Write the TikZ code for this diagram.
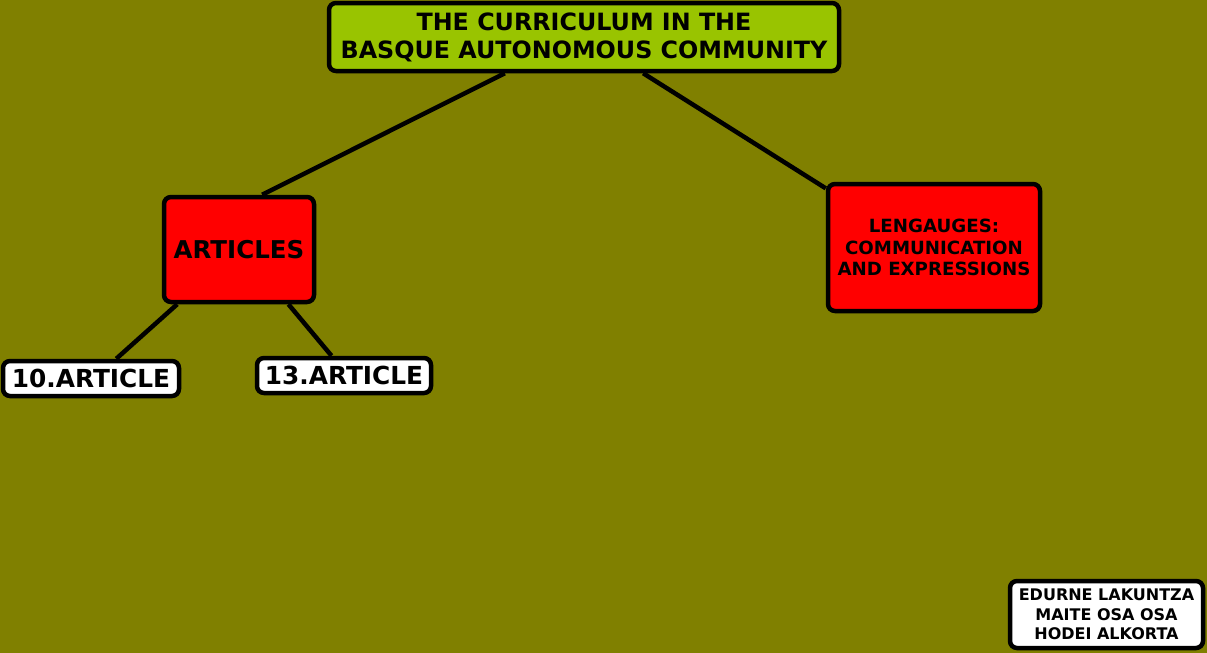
\documentclass[tikz,border=0pt]{standalone}
\usepackage{fontspec}
\setmainfont{DejaVu Sans}
\usetikzlibrary{calc}
\definecolor{bgolive}{RGB}{128,128,0}
\definecolor{topgreen}{RGB}{153,196,0}
\definecolor{boxred}{RGB}{255,0,0}
\tikzset{
  box/.style={draw=black, line width=4.5pt, rounded corners=7pt, align=center, inner sep=0pt, font=\bfseries},
  link/.style={draw=black, line width=4.5pt},
}
\begin{document}
\begin{tikzpicture}[x=1pt,y=-1pt]
\fill[bgolive] (0,0) rectangle (1207,653);
\useasboundingbox (0,0) rectangle (1207,653);
\node[box, fill=topgreen, minimum width=510pt, minimum height=68pt, font=\bfseries\fontsize{23.8}{28}\selectfont] (top) at (584,37) {THE CURRICULUM IN THE\\BASQUE AUTONOMOUS COMMUNITY};
\node[box, fill=boxred, minimum width=150pt, minimum height=105pt, font=\bfseries\fontsize{24.5}{26}\selectfont] (art) at (239,249.5) {ARTICLES};
\node[box, fill=boxred, minimum width=212pt, minimum height=127pt, font=\bfseries\fontsize{18.2}{21.5}\selectfont] (leng) at (934,247.5) {LENGAUGES:\\COMMUNICATION\\AND EXPRESSIONS};
\node[box, fill=white, minimum width=176pt, minimum height=35pt, font=\bfseries\fontsize{24.8}{26}\selectfont] (a10) at (91,378.5) {10.ARTICLE};
\node[box, fill=white, minimum width=174pt, minimum height=35pt, font=\bfseries\fontsize{24.8}{26}\selectfont] (a13) at (344,375.5) {13.ARTICLE};
\node[box, fill=white, minimum width=193pt, minimum height=67pt, font=\bfseries\fontsize{16}{19.5}\selectfont] (cred) at (1106.5,614.5) {EDURNE LAKUNTZA\\MAITE OSA OSA\\HODEI ALKORTA};
\draw[link] ($(top.south west)!0.346!(top.south east)$) -- ($(art.north west)!0.65!(art.north east)$);
\draw[link] ($(top.south west)!0.615!(top.south east)$) -- ($(leng.north west)!0.05!(leng.south west)$);
\draw[link] ($(art.south west)!0.1!(art.south east)$) -- ($(a10.north west)!0.64!(a10.north east)$);
\draw[link] ($(art.south west)!0.82!(art.south east)$) -- ($(a13.north west)!0.43!(a13.north east)$);
\end{tikzpicture}
\end{document}
